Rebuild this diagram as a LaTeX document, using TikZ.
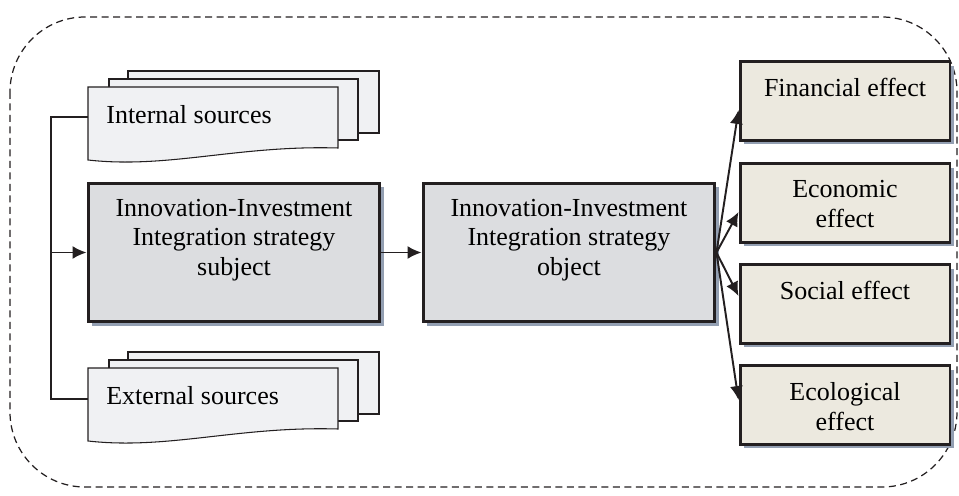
\documentclass[tikz,border=0pt]{standalone}
\usepackage{fontspec}
\setmainfont{Liberation Serif}
\usetikzlibrary{arrows.meta,shadows}
\definecolor{inkline}{RGB}{35, 31, 32}
\definecolor{sheetgray}{RGB}{240, 241, 243}
\definecolor{boxgray}{RGB}{220, 221, 224}
\definecolor{effectbeige}{RGB}{236, 233, 223}
\definecolor{shadowblue}{RGB}{147, 159, 178}

\tikzset{
    bigfont/.style   ={font=\fontsize{14.8pt}{17pt}\selectfont},
    sheet/.style     ={draw=inkline, fill=sheetgray, line width=0.6pt},
    doctext/.style   ={bigfont, anchor=west, inner xsep=0.36cm, inner ysep=0pt},
    stratbox/.style  ={draw=inkline, fill=boxgray, line width=1.7pt, minimum width=5.84cm, minimum height=2.78cm,
                       drop shadow={shadow xshift=0.08cm, shadow yshift=-0.08cm, fill=shadowblue, opacity=1}},
    effectbox/.style ={draw=inkline, fill=effectbeige, line width=1.7pt, minimum width=4.2cm, minimum height=1.58cm,
                       drop shadow={shadow xshift=0.08cm, shadow yshift=-0.08cm, fill=shadowblue, opacity=1}},
    boxtext/.style   ={bigfont, align=center, anchor=north, inner sep=0pt},
    link/.style      ={draw=inkline, line width=1.1pt},
    arrowlink/.style ={link, -{Latex[length=0.28cm, width=0.26cm]}}
}

% three stacked sheets, front sheet with a wavy lower edge
\newcommand{\docstack}[1]{
    \begin{scope}[shift={#1}]
        \filldraw[sheet] (40,-16) rectangle (291,46);
        \filldraw[sheet] (21,-8)  rectangle (270,53);
        \filldraw[sheet] (0,0) -- (250,0) -- (250,61)
                         .. controls (150,58) and (80,82) .. (0,73) -- cycle;
    \end{scope}
}

\begin{document}
\begin{tikzpicture}[x=0.02cm, y=-0.02cm]
    \useasboundingbox (0,0) rectangle (959,496);

    % outer frame
    \draw[inkline, line width=0.7pt, dash pattern=on 0.14cm off 0.09cm, rounded corners=1.5cm]
        (10,17) rectangle (957,487);

    % sources
    \docstack{(88,87)}
    \docstack{(88,368)}
    \node[doctext] (intsrc) at (88,115) {Internal sources};
    \node[doctext] (extsrc) at (88,396) {External sources};

    % strategy boxes
    \node[stratbox] (subject) at (234,252.5) {};
    \node[stratbox] (object)  at (569,252.5) {};
    \node[boxtext] (subjecttxt) at ([yshift=-0.34cm]subject.north) {Innovation-Investment\\Integration strategy\\subject};
    \node[boxtext] (objecttxt)  at ([yshift=-0.34cm]object.north)  {Innovation-Investment\\Integration strategy\\object};

    % effects
    \node[effectbox] (financial)  at (845,101) {};
    \node[effectbox] (economic)   at (845,203) {};
    \node[effectbox] (social)     at (845,304) {};
    \node[effectbox] (ecological) at (845,405) {};
    \node[boxtext] (financialtxt)  at ([yshift=-0.36cm]financial.north)  {Financial effect};
    \node[boxtext] (economictxt)   at ([yshift=-0.36cm]economic.north)   {Economic\\effect};
    \node[boxtext] (socialtxt)     at ([yshift=-0.36cm]social.north)     {Social effect};
    \node[boxtext] (ecologicaltxt) at ([yshift=-0.36cm]ecological.north) {Ecological\\effect};

    % connectors
    \coordinate (bus) at (51,252.5);
    \draw[link] ([yshift=-0.04cm]intsrc.west) -| (bus) |- ([yshift=-0.06cm]extsrc.west);
    \draw[arrowlink] (bus) -- (subject.west);
    \draw[arrowlink] (subject.east) -- (object.west);
    \draw[arrowlink] (object.east) -- ([yshift=-0.18cm]financial.west);
    \draw[arrowlink] (object.east) -- ([yshift=-0.18cm]economic.west);
    \draw[arrowlink] (object.east) -- ([yshift=0.16cm]social.west);
    \draw[arrowlink] (object.east) -- ([yshift=0.1cm]ecological.west);
\end{tikzpicture}
\end{document}
